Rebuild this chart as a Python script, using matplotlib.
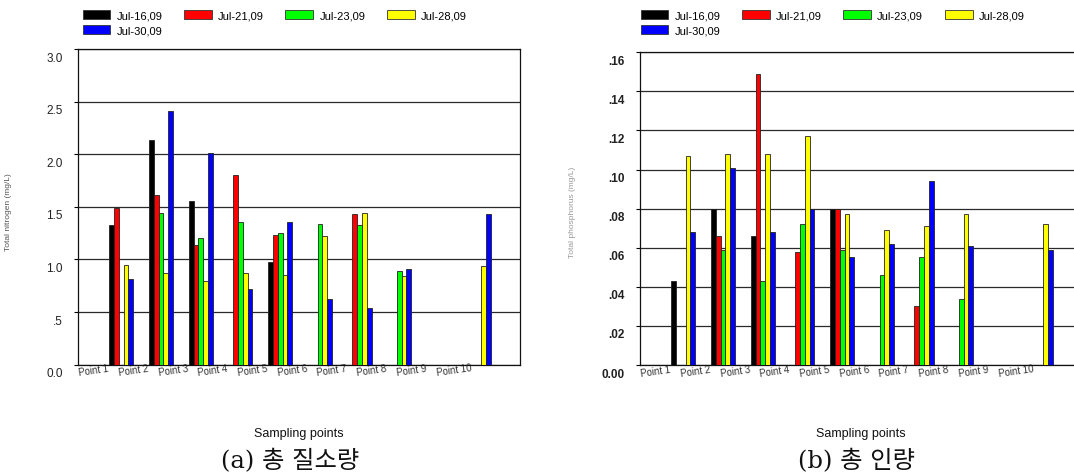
import numpy as np
import matplotlib
matplotlib.use("Agg")
import matplotlib.pyplot as plt
from matplotlib.patches import Patch
from matplotlib.transforms import ScaledTranslation

# ---------------- data ----------------
points = ["Point 1", "Point 2", "Point 3", "Point 4", "Point 5",
          "Point 6", "Point 7", "Point 8", "Point 9", "Point 10"]
dates = ["Jul-16,09", "Jul-21,09", "Jul-23,09", "Jul-28,09", "Jul-30,09"]
colors = ["#000000", "#ff0000", "#00ff00", "#ffff00", "#0000ff"]

nan = np.nan
# (a) total nitrogen
tn_jul16 = [1.33, 2.14, 1.56, nan, 0.98, nan, nan, nan, nan, nan]
tn_jul21 = [1.49, 1.61, 1.14, 1.80, 1.23, nan, 1.43, nan, nan, nan]
tn_jul23 = [nan, 1.44, 1.20, 1.36, 1.25, 1.34, 1.33, 0.89, nan, nan]
tn_jul28 = [0.95, 0.87, 0.80, 0.87, 0.85, 1.22, 1.44, 0.84, nan, 0.94]
tn_jul30 = [0.81, 2.41, 2.01, 0.72, 1.36, 0.62, 0.54, 0.91, nan, 1.43]
tn_yticks = [0.0, 0.5, 1.0, 1.5, 2.0, 2.5, 3.0]
tn_yticklabels = ["0.0", ".5", "1.0", "1.5", "2.0", "2.5", "3.0"]

# (b) total phosphorus
tp_jul16 = [0.043, 0.080, 0.066, nan, 0.080, nan, nan, nan, nan, nan]
tp_jul21 = [nan, 0.066, 0.149, 0.058, 0.080, nan, 0.030, nan, nan, nan]
tp_jul23 = [nan, 0.059, 0.043, 0.072, 0.059, 0.046, 0.055, 0.034, nan, nan]
tp_jul28 = [0.107, 0.108, 0.108, 0.117, 0.077, 0.069, 0.071, 0.077, nan, 0.072]
tp_jul30 = [0.068, 0.101, 0.068, 0.080, 0.055, 0.062, 0.094, 0.061, nan, 0.059]
tp_yticks = [0.00, 0.02, 0.04, 0.06, 0.08, 0.10, 0.12, 0.14, 0.16]
tp_yticklabels = ["0.00", ".02", ".04", ".06", ".08", ".10", ".12", ".14", ".16"]

captions = ["(a) 총 질소량", "(b) 총 인량"]
xlabel = "Sampling points"
ylabels = ["Total nitrogen (mg/L)", "Total phosphorus (mg/L)"]

# ---------------- figure ----------------
W, H = 1074, 477
plt.rcParams["font.family"] = ["Liberation Sans", "DejaVu Sans"]
fig = plt.figure(figsize=(W / 100, H / 100), dpi=100)

ax1 = fig.add_axes([78 / W, 1 - 365.7 / H, 442 / W, 315.7 / H])
ax2 = fig.add_axes([640 / W, 1 - 366 / H, 442 / W, 312.8 / H])

bw = 0.12
x = np.arange(len(points))


def draw(ax, series, yticks, yticklabels, bold):
    for k, (vals, c) in enumerate(zip(series, colors)):
        ax.bar(x + (k - 2) * bw, vals, width=bw, align="center",
               color=c, edgecolor="#222222", linewidth=0.6, zorder=3)
    ax.set_xlim(-1.0125, 10.0375)
    ax.set_ylim(yticks[0], yticks[-1])
    ax.set_yticks(yticks, yticklabels)
    ax.yaxis.grid(True, color="#2a2a2a", linewidth=0.9)
    ax.set_axisbelow(True)
    ax.tick_params(axis="y", direction="out", length=3, width=0.8,
                   pad=8, labelsize=8.5, labelcolor="#222222")
    for lab in ax.get_yticklabels():
        if bold:
            lab.set_fontweight("bold")
        lab.set_transform(lab.get_transform()
                          + ScaledTranslation(0, -7 / 100, fig.dpi_scale_trans))
    ax.set_xticks(x - 1.09, points)
    ax.tick_params(axis="x", length=0, pad=2, labelsize=7, labelcolor="#333333")
    for lab in ax.get_xticklabels():
        lab.set_rotation(8)
        lab.set_ha("left")
        lab.set_rotation_mode("anchor")
    for s in ax.spines.values():
        s.set_color("#111111")
        s.set_linewidth(0.9)
    ax.set_xlabel(xlabel, fontsize=9, color="#111111")
    ax.xaxis.set_label_coords(0.5, -0.197)


draw(ax1, [tn_jul16, tn_jul21, tn_jul23, tn_jul28, tn_jul30],
     tn_yticks, tn_yticklabels, False)
draw(ax2, [tp_jul16, tp_jul21, tp_jul23, tp_jul28, tp_jul30],
     tp_yticks, tp_yticklabels, True)

# legends
handles = [Patch(facecolor=c, edgecolor="#333333", linewidth=0.6) for c in colors]
order = [0, 4, 1, 2, 3]
for x0 in (82.6, 640.5):
    fig.legend([handles[i] for i in order], [dates[i] for i in order],
               ncol=4, loc="upper left", bbox_to_anchor=(x0 / W, 1 - 11 / H),
               frameon=False, fontsize=8, handlelength=2.5, handleheight=0.87,
               handletextpad=0.55, columnspacing=1.95, labelspacing=0.45,
               borderpad=0, borderaxespad=0)

# faint y-axis labels
fig.text(9 / W, 1 - 212 / H, ylabels[0], rotation=90, fontsize=6,
         color="#555555", ha="center", va="center")
fig.text(572 / W, 1 - 212 / H, ylabels[1], rotation=90, fontsize=6,
         color="#999999", ha="center", va="center")

# captions
cap_font = ["DejaVu Serif", "Noto Sans CJK KR", "DejaVu Sans"]
fig.text(290 / W, 1 - 461 / H, captions[0], ha="center", va="center",
         fontsize=17.5, family=cap_font, color="#111111")
fig.text(856 / W, 1 - 461 / H, captions[1], ha="center", va="center",
         fontsize=17.5, family=cap_font, color="#111111")

fig.savefig("out.png", dpi=100)
